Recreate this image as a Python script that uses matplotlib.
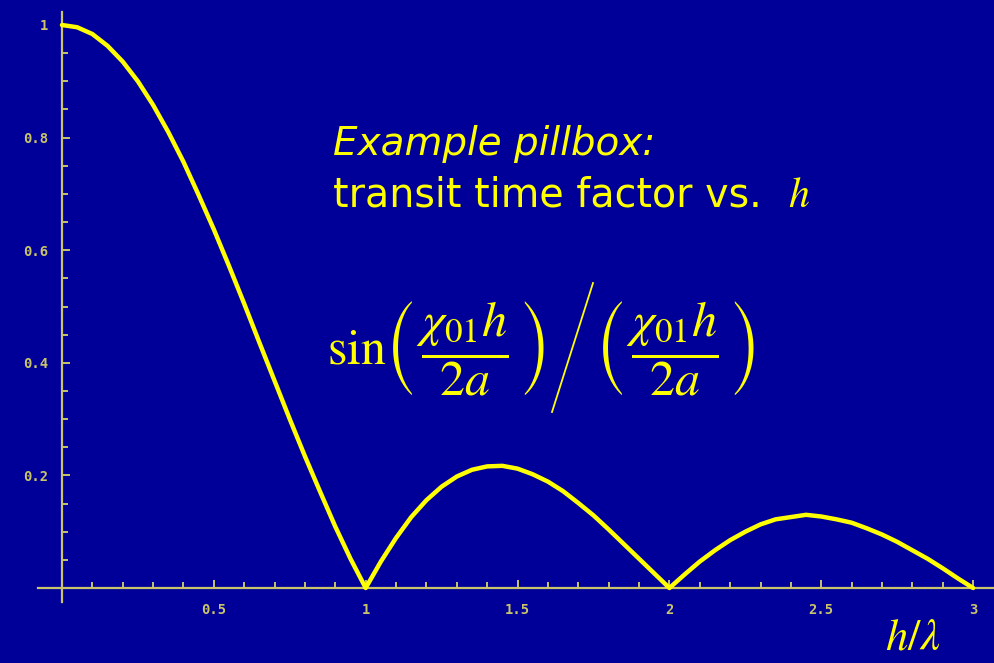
import matplotlib
matplotlib.use('Agg')
from matplotlib import pyplot as plt
from matplotlib.lines import Line2D
from matplotlib.ticker import FixedLocator, FixedFormatter

# |transit time factor| sampled along h/lambda
h_over_lambda = [0.0, 0.05, 0.1, 0.15, 0.2, 0.25, 0.3, 0.35, 0.4, 0.45,
                 0.5, 0.55, 0.6, 0.65, 0.7, 0.75, 0.8, 0.85, 0.9, 0.95,
                 1.0, 1.05, 1.1, 1.15, 1.2, 1.25, 1.3, 1.35, 1.4, 1.45,
                 1.5, 1.55, 1.6, 1.65, 1.7, 1.75, 1.8, 1.85, 1.9, 1.95,
                 2.0, 2.05, 2.1, 2.15, 2.2, 2.25, 2.3, 2.35, 2.4, 2.45,
                 2.5, 2.55, 2.6, 2.65, 2.7, 2.75, 2.8, 2.85, 2.9, 2.95, 3.0]
ttf = [1.0, 0.996, 0.984, 0.963, 0.935, 0.90, 0.858, 0.81, 0.757, 0.698,
       0.637, 0.572, 0.505, 0.436, 0.368, 0.30, 0.234, 0.171, 0.109, 0.052,
       0.0, 0.047, 0.089, 0.126, 0.156, 0.18, 0.198, 0.21, 0.216, 0.217,
       0.212, 0.202, 0.189, 0.172, 0.151, 0.129, 0.104, 0.078, 0.052, 0.026,
       0.0, 0.024, 0.047, 0.067, 0.085, 0.10, 0.113, 0.122, 0.126, 0.13,
       0.127, 0.122, 0.116, 0.106, 0.095, 0.082, 0.067, 0.052, 0.035, 0.017, 0.0]

x_major = [0.5, 1.0, 1.5, 2.0, 2.5, 3.0]
x_major_labels = ['0.5', '1', '1.5', '2', '2.5', '3']
x_minor = [i / 10 for i in range(1, 30) if i % 5 != 0]
y_major = [0.2, 0.4, 0.6, 0.8, 1.0]
y_major_labels = ['0.2', '0.4', '0.6', '0.8', '1']
y_minor = [i / 20 for i in range(1, 20) if i % 4 != 0]

bg = '#000099'
axis_col = '#C9C46B'
yellow = '#FFFF00'

plt.rcParams['mathtext.fontset'] = 'stix'

fig = plt.figure(figsize=(9.95, 6.63), dpi=100, facecolor=bg)
ax = fig.add_axes([0, 0, 1, 1])
ax.set_facecolor(bg)
ax.set_xlim(-0.204, 3.072)
ax.set_ylim(-0.1332, 1.0444)

ax.plot(h_over_lambda, ttf, color=yellow, lw=3.2, solid_joinstyle='round',
        solid_capstyle='round', zorder=3)

# axes cross at the origin, Mathematica style
for s in ['top', 'right']:
    ax.spines[s].set_visible(False)
ax.spines['left'].set_position(('data', 0))
ax.spines['bottom'].set_position(('data', 0))
ax.spines['left'].set_bounds(-0.025, 1.023)
ax.spines['bottom'].set_bounds(-0.08, 3.072)
for s in ['left', 'bottom']:
    ax.spines[s].set_color(axis_col)
    ax.spines[s].set_linewidth(1.6)

ax.xaxis.set_major_locator(FixedLocator(x_major))
ax.xaxis.set_major_formatter(FixedFormatter(x_major_labels))
ax.xaxis.set_minor_locator(FixedLocator(x_minor))
ax.yaxis.set_major_locator(FixedLocator(y_major))
ax.yaxis.set_major_formatter(FixedFormatter(y_major_labels))
ax.yaxis.set_minor_locator(FixedLocator(y_minor))

ax.tick_params(which='both', direction='in', colors=axis_col, width=1.4)
ax.tick_params(which='major', length=6)
ax.tick_params(which='minor', length=4)
ax.tick_params(axis='x', which='major', pad=11)
ax.tick_params(axis='y', which='major', pad=10)
for lab in ax.get_xticklabels() + ax.get_yticklabels():
    lab.set_fontfamily('DejaVu Sans Mono')
    lab.set_fontsize(10)
    lab.set_fontweight('bold')
    lab.set_color(axis_col)

fig.text(0.335, 0.766, 'Example pillbox:', color=yellow, fontsize=28,
         style='italic', family='DejaVu Sans')
fig.text(0.335, 0.688, 'transit time factor vs.', color=yellow, fontsize=28.5,
         family='DejaVu Sans')
fig.text(0.792, 0.688, r'$h$', color=yellow, fontsize=30)

# sin(x)/x formula, two halves joined by a tall thin slash
arg = r'\left(\,\dfrac{\chi_{01}h}{2a}\,\right)'
fig.text(0.329, 0.474, r'$\mathrm{sin}' + arg + '$', color=yellow,
         fontsize=36, va='center')
fig.add_artist(Line2D([552 / 995, 593 / 995], [1 - 412 / 663, 1 - 283 / 663],
                      color=yellow, lw=1.3))
fig.text(0.598, 0.474, '$' + arg + '$', color=yellow, fontsize=36,
         va='center')
fig.text(0.889, 0.02, r'$h/\lambda$', color=yellow, fontsize=32)

fig.savefig('out.png', dpi=100, facecolor=bg)
